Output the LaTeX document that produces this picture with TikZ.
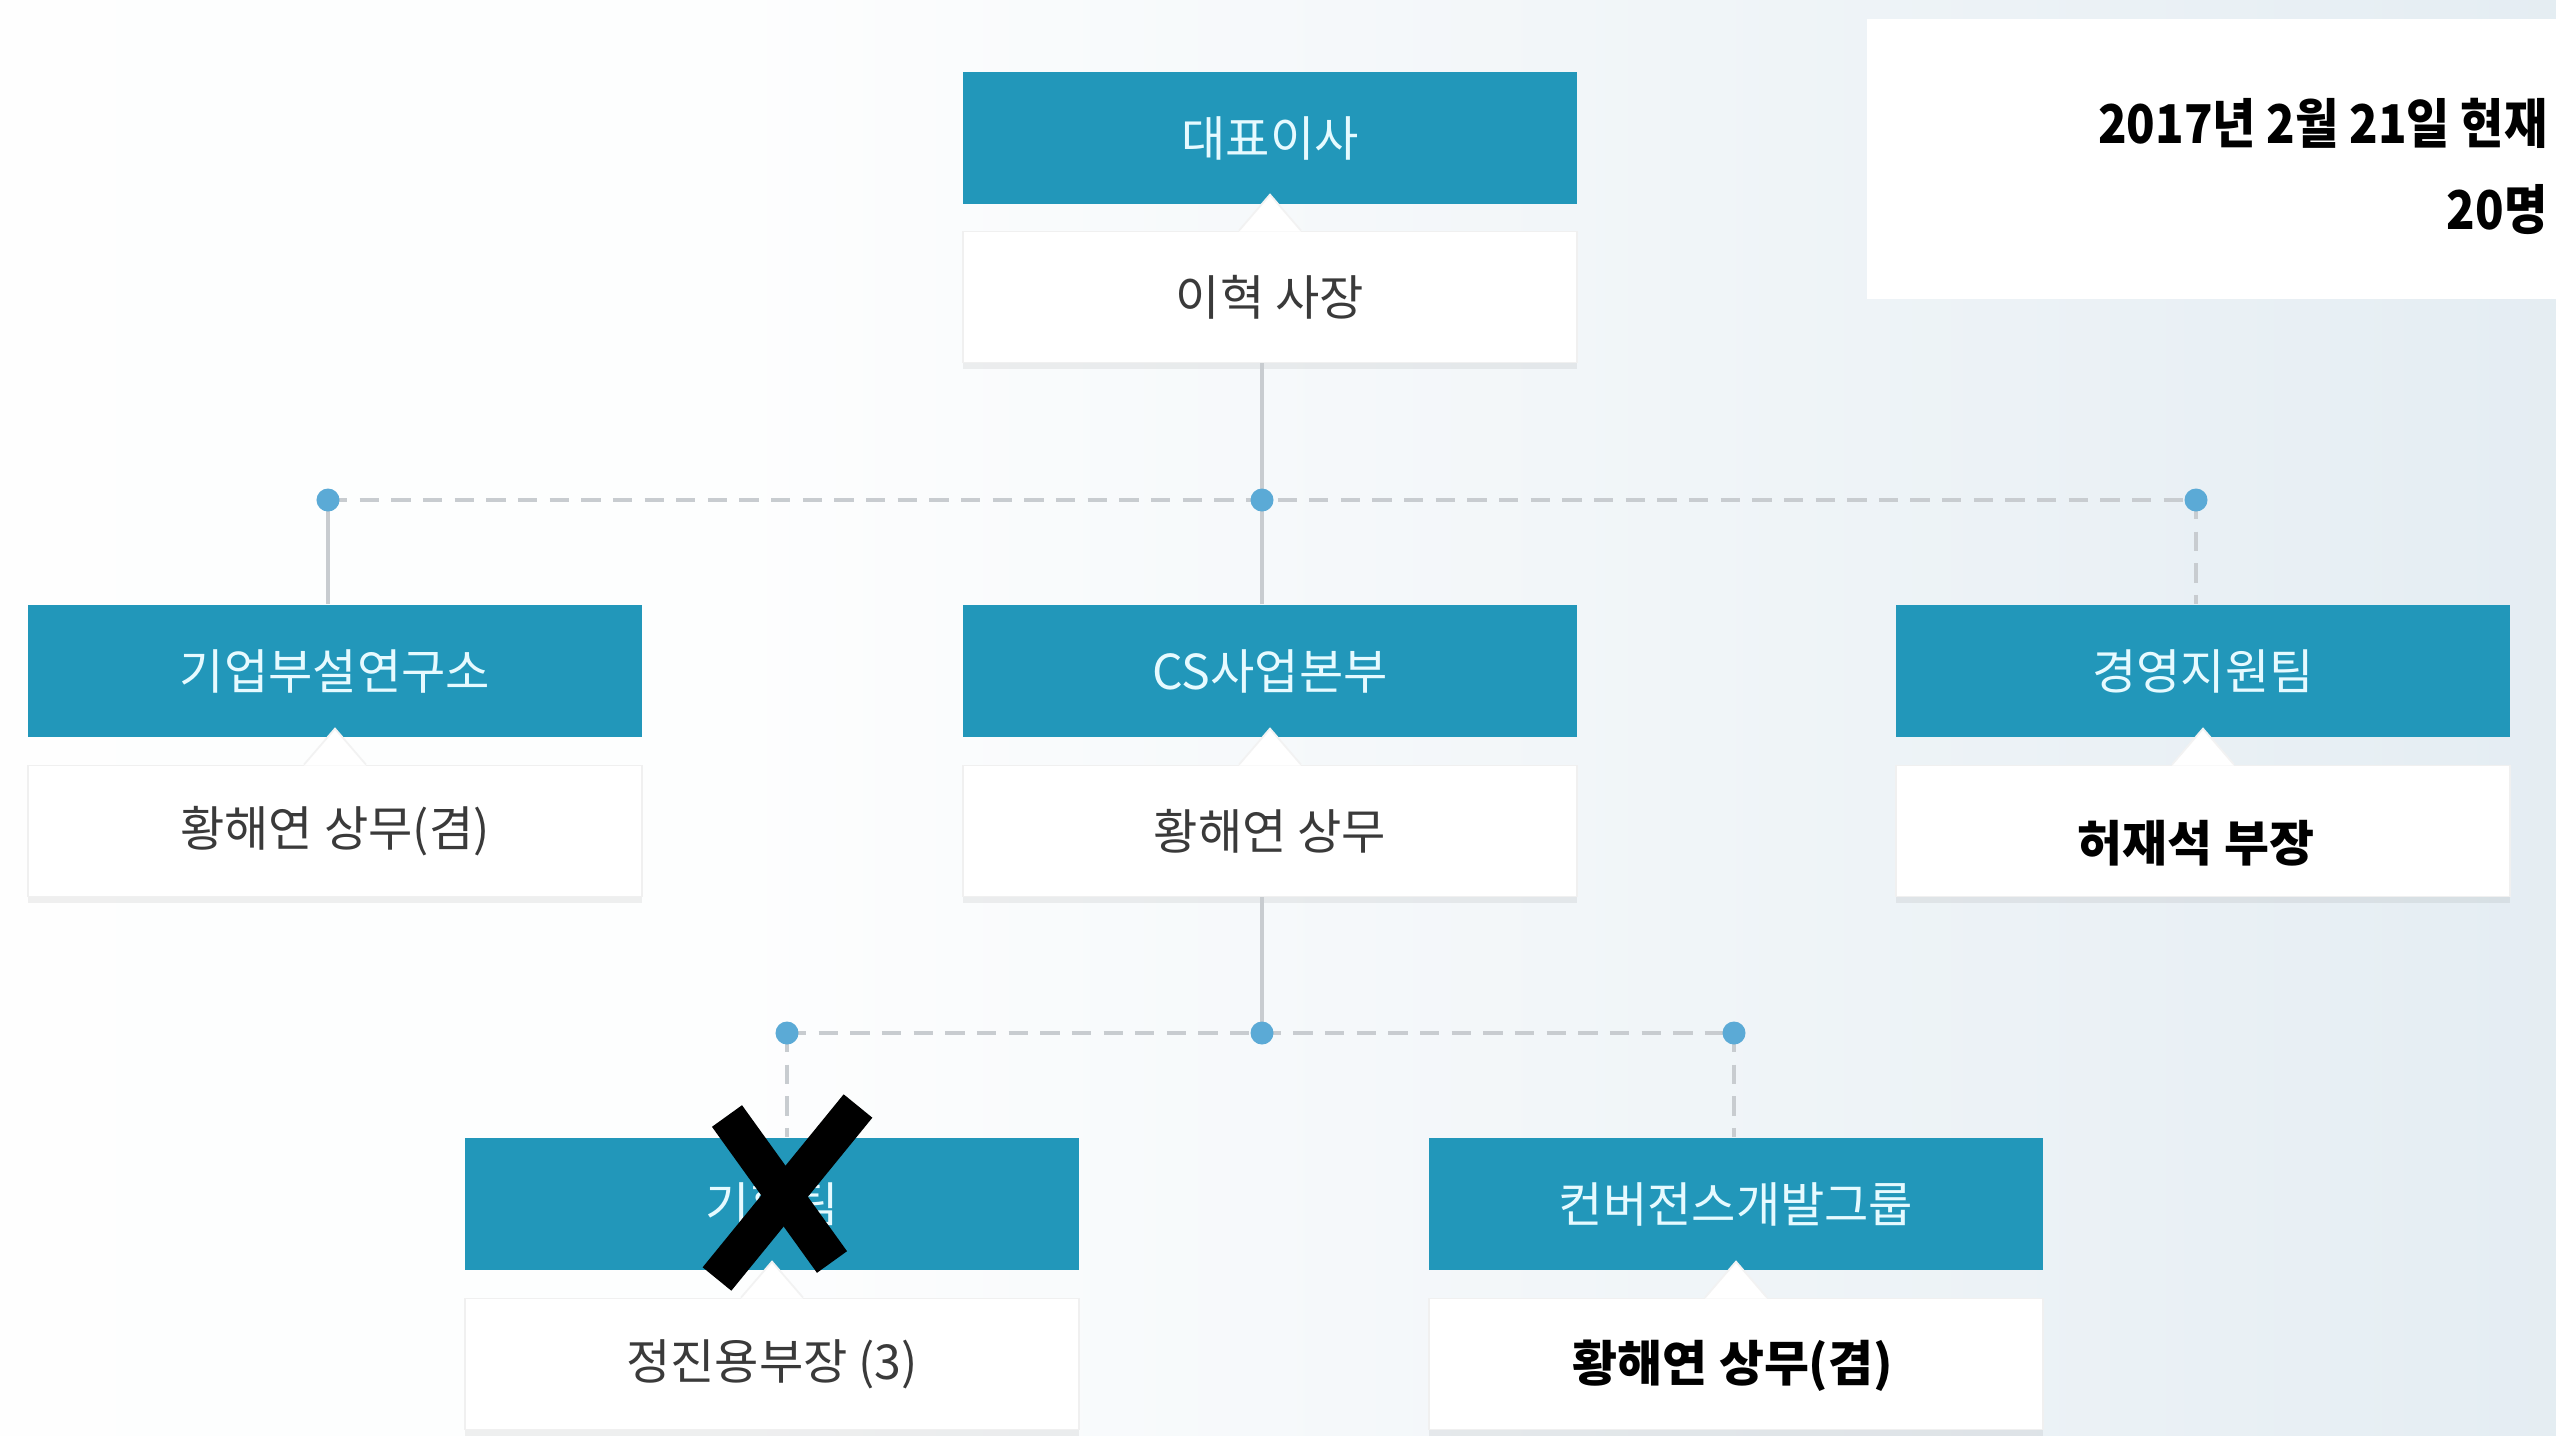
\documentclass[tikz,border=0pt]{standalone}
\usepackage{fontspec}
\setmainfont{Noto Sans CJK KR}
\usetikzlibrary{calc,shadows}
\definecolor{boxblue}{HTML}{2297BA}
\definecolor{txtlight}{HTML}{E6FAFF}
\definecolor{txtdark}{HTML}{3A3A3A}
\definecolor{linegray}{HTML}{C8CCD0}
\definecolor{dotblue}{HTML}{5BAAD6}
\definecolor{bgright}{HTML}{D3E1EA}
\pgfdeclarehorizontalshading{bgshade}{100bp}{color(0bp)=(white); color(40bp)=(white!95!bgright); color(100bp)=(bgright)}
\begin{document}
\begin{tikzpicture}[x=0.01cm,y=-0.01cm,
 bluebox/.style={fill=boxblue, draw=none, minimum width=6.13cm, minimum height=1.32cm, text=txtlight, font=\fontsize{13.7}{16}\selectfont, inner sep=0pt},
 whitebox/.style={fill=white, draw=black!6, line width=0.5pt, minimum width=6.13cm, minimum height=1.31cm, text=txtdark, font=\fontsize{13.7}{16}\selectfont, inner sep=0pt, drop shadow={shadow xshift=0cm, shadow yshift=-0.06cm, opacity=0.06, fill=black}},
 boldtxt/.style={text=black, font=\fontsize{13.9}{17}\selectfont\bfseries},
 solidcon/.style={draw=linegray, line width=1.3pt},
 dashcon/.style={draw=linegray, line width=1.3pt, dash pattern=on 5.5pt off 3.5pt},
 dotnode/.style={circle, fill=dotblue, minimum size=0.23cm, inner sep=0pt},
 infotxt/.style={anchor=base east, text=black, font=\fontsize{15.2}{18}\selectfont\bfseries, inner sep=0pt}]
% background
\fill[shading=bgshade] (0,0) rectangle (2556,1436);
\useasboundingbox (0,0) rectangle (2556,1436);
% info box
\node[fill=white, minimum width=6.95cm, minimum height=2.80cm, anchor=north west, inner sep=0pt] (info) at (1866,18) {};
\node[infotxt] (date) at (2548,143) {\scalebox{0.88}[1]{2017년 2월 21일 현재}};
\node[infotxt] (count) at (2548,229) {\scalebox{0.88}[1]{20명}};
% dot positions
\coordinate (c1) at (328,500);
\coordinate (c2) at (1262,500);
\coordinate (c3) at (2196,500);
\coordinate (c4) at (787,1033);
\coordinate (c5) at (1262,1033);
\coordinate (c6) at (1734,1033);
% boxes
\node[bluebox] (ceo) at (1270,138) {대표이사};
\node[whitebox] (ceow) at (1270,297) {이혁 사장};
\node[bluebox] (lab) at (335,671) {기업부설연구소};
\node[whitebox] (labw) at (335,831) {황해연 상무(겸)};
\node[bluebox] (cs) at (1270,671) {CS사업본부};
\node[whitebox] (csw) at (1270,831) {황해연 상무};
\node[bluebox] (mgmt) at (2203,671) {경영지원팀};
\node[whitebox] (mgmtw) at (2203,831) {};
\node[boldtxt] (mgmtt) at (2196,843) {허재석 부장};
\node[bluebox] (plan) at (772,1204) {기획팀};
\node[whitebox] (planw) at (772,1364) {정진용부장 (3)};
\node[bluebox] (conv) at (1736,1204) {컨버전스개발그룹};
\node[whitebox] (convw) at (1736,1364) {};
\node[boldtxt] (convt) at (1733,1366) {황해연 상무(겸)};
% pointers
\foreach \w in {ceow,labw,csw,mgmtw,planw,convw}{
  \fill[white] ($(\w.north)+(-31,1)$) -- ($(\w.north)+(0,-36)$) -- ($(\w.north)+(31,1)$) -- cycle;
  \draw[black!5, line width=0.5pt] ($(\w.north)+(-31,0)$) -- ($(\w.north)+(0,-36)$) -- ($(\w.north)+(31,0)$);
}
% connectors
\draw[solidcon] (c2 |- ceow.south) -- (c2);
\draw[dashcon] (c1) -- (c3);
\draw[solidcon] (c1) -- (c1 |- lab.north);
\draw[solidcon] (c2) -- (c2 |- cs.north);
\draw[dashcon] (c3) -- (c3 |- mgmt.north);
\draw[solidcon] (c5 |- csw.south) -- (c5);
\draw[dashcon] (c4) -- (c6);
\draw[dashcon] (c4) -- (c4 |- plan.north);
\draw[dashcon] (c6) -- (c6 |- conv.north);
% dots
\foreach \c in {c1,c2,c3,c4,c5,c6}{ \node[dotnode] at (\c) {}; }
% cross mark
\draw[black, line width=0.37cm] (858,1106) -- (717,1279);
\draw[black, line width=0.37cm] (727,1116) -- (832,1262);
\end{tikzpicture}
\end{document}
